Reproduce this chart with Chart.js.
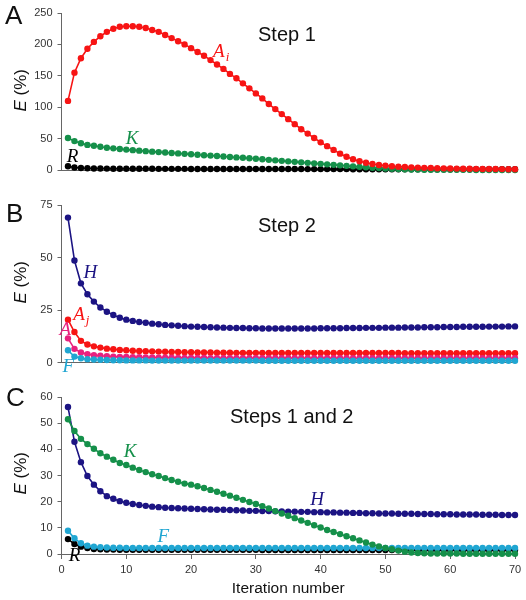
<!DOCTYPE html>
<html lang="en">
<head>
<meta charset="UTF-8">
<title>Iteration error</title>
<script src="https://cdn.jsdelivr.net/npm/chart.js"></script>
<style>
  body { margin: 0; background: #fff; font-family: Arial, "Liberation Sans", sans-serif; }
  #wrap { position: relative; width: 526px; height: 600px; }
  canvas { position: absolute; left: 0; }
  .txt { position: absolute; color: #111; white-space: nowrap; line-height: 1; }
  .letter { font-size: 26px; }
  .step { font-size: 20px; }
  .ytitle { font-size: 17px; transform: rotate(-90deg); transform-origin: center; }
</style>
</head>
<body>
<div id="wrap">
  <canvas id="chartA" width="526" height="185" style="top:0"></canvas>
  <canvas id="chartB" width="526" height="185" style="top:190px"></canvas>
  <canvas id="chartC" width="526" height="220" style="top:380px"></canvas>

  <div class="txt letter" style="left:5px;top:2px">A</div>
  <div class="txt letter" style="left:6px;top:200px">B</div>
  <div class="txt letter" style="left:6px;top:384px">C</div>

  <div class="txt step" style="left:258px;top:24px">Step 1</div>
  <div class="txt step" style="left:258px;top:215px">Step 2</div>
  <div class="txt step" style="left:230px;top:406px">Steps 1 and 2</div>

  <div class="txt ytitle" style="left:0px;top:83px;width:40px;text-align:center"><i>E</i> (%)</div>
  <div class="txt ytitle" style="left:0px;top:275px;width:40px;text-align:center"><i>E</i> (%)</div>
  <div class="txt ytitle" style="left:0px;top:466px;width:40px;text-align:center"><i>E</i> (%)</div>
</div>

<script>
// iteration numbers (x)
const iterations = [1,2,3,4,5,6,7,8,9,10,11,12,13,14,15,16,17,18,19,20,
  21,22,23,24,25,26,27,28,29,30,31,32,33,34,35,36,37,38,39,40,
  41,42,43,44,45,46,47,48,49,50,51,52,53,54,55,56,57,58,59,60,
  61,62,63,64,65,66,67,68,69,70];

// Panel A - Step 1
const stepOneAi = [110,155,178,193,204,213,220,225,228,229,
  229,228,226,223,220,215,210,205,200,194,
  188,182,175,168,161,153,146,138,130,122,
  114,105,97,89,81,73,65,58,51,44,
  38,32,26,21,17,14,11.5,9.5,8,7,
  6,5.3,4.7,4.2,3.8,3.4,3.1,2.8,2.6,2.4,
  2.2,2,1.9,1.8,1.7,1.6,1.5,1.4,1.3,1.2];
const stepOneK = [51,46,42.5,40,38.5,37,35.5,34.5,33.5,32.5,
  31.6,30.8,30,29.2,28.5,27.8,27.1,26.4,25.7,25,
  24.3,23.6,22.9,22.2,21.5,20.8,20.1,19.4,18.6,17.8,
  17,16.2,15.4,14.6,13.8,13,12.2,11.4,10.6,9.8,
  9,8.2,7.4,6.6,5.8,5,4.3,3.6,3,2.4,
  1.9,1.5,1.1,0.8,0.6,0.5,0.4,0.3,0.3,0.2,
  0.2,0.2,0.2,0.1,0.1,0.1,0.1,0.1,0.1,0.1];
const stepOneR = [6,4,3.2,2.8,2.5,2.3,2.2,2.1,2,2,
  1.9,1.9,1.9,1.9,1.8,1.8,1.8,1.8,1.8,1.7,
  1.7,1.7,1.7,1.7,1.6,1.6,1.6,1.6,1.6,1.6,
  1.5,1.5,1.5,1.5,1.5,1.5,1.5,1.4,1.4,1.4,
  1.4,1.4,1.4,1.4,1.3,1.3,1.3,1.3,1.3,1.3,
  1.3,1.3,1.2,1.2,1.2,1.2,1.2,1.2,1.2,1.2,
  1.2,1.2,1.1,1.1,1.1,1.1,1.1,1.1,1.1,1.1];

// Panel B - Step 2
const stepTwoH = [69,48.6,37.7,32.5,29,26.2,24.2,22.6,21.3,20.4,
  19.8,19.3,18.9,18.5,18.2,17.9,17.7,17.5,17.3,17.1,
  17,16.9,16.8,16.7,16.6,16.5,16.4,16.4,16.3,16.3,
  16.2,16.2,16.2,16.2,16.2,16.2,16.2,16.2,16.2,16.3,
  16.3,16.3,16.3,16.4,16.4,16.4,16.5,16.5,16.5,16.6,
  16.6,16.6,16.7,16.7,16.7,16.8,16.8,16.8,16.9,16.9,
  16.9,17,17,17,17,17.1,17.1,17.1,17.2,17.2];
const stepTwoAj = [20.4,14.5,10.3,8.6,7.7,7.1,6.6,6.3,6,5.8,
  5.6,5.5,5.4,5.3,5.2,5.1,5,5,4.9,4.9,
  4.8,4.8,4.8,4.7,4.7,4.7,4.6,4.6,4.6,4.6,
  4.6,4.5,4.5,4.5,4.5,4.5,4.5,4.5,4.5,4.5,
  4.5,4.5,4.5,4.5,4.5,4.5,4.5,4.5,4.5,4.5,
  4.5,4.5,4.4,4.4,4.4,4.4,4.4,4.4,4.4,4.4,
  4.4,4.4,4.4,4.4,4.4,4.4,4.4,4.4,4.4,4.4];
const stepTwoA = [11.5,6.5,4.8,4,3.5,3.2,3,2.8,2.7,2.6,
  2.5,2.5,2.4,2.4,2.3,2.3,2.3,2.2,2.2,2.2,
  2.2,2.2,2.1,2.1,2.1,2.1,2.1,2.1,2.1,2.1,
  2.1,2.1,2.1,2.1,2.1,2.1,2.1,2.1,2.1,2.1,
  2.1,2.1,2,2,2,2,2,2,2,2,
  2,2,2,2,2,2,2,2,2,2,
  2,2,2,2,2,2,2,2,2,2];
const stepTwoF = [5.8,2.8,2,1.6,1.4,1.3,1.2,1.1,1.1,1,
  1,1,1,0.9,0.9,0.9,0.9,0.9,0.9,0.9,
  0.9,0.9,0.9,0.9,0.9,0.9,0.9,0.9,0.9,0.9,
  0.8,0.8,0.8,0.8,0.8,0.8,0.8,0.8,0.8,0.8,
  0.8,0.8,0.8,0.8,0.8,0.8,0.8,0.8,0.8,0.8,
  0.8,0.8,0.8,0.8,0.8,0.8,0.8,0.8,0.8,0.8,
  0.8,0.8,0.8,0.8,0.8,0.8,0.8,0.8,0.8,0.8];

// Panel C - Steps 1 and 2
const bothK = [51.5,47,44,42,40.2,38.5,37.2,36,34.8,34,
  33,32.1,31.3,30.5,29.8,29,28.3,27.6,26.9,26.5,
  25.9,25.2,24.5,23.8,23,22.3,21.5,20.7,19.9,19.1,
  18.3,17.4,16.4,15.5,14.6,13.7,12.8,11.9,11,10.1,
  9.2,8.4,7.6,6.8,6,5.2,4.4,3.6,2.9,2.3,
  1.8,1.3,0.9,0.6,0.4,0.3,0.2,0.2,0.2,0.2,
  0.2,0.1,0.1,0.1,0.1,0.1,0.1,0.1,0.1,0.1];
const bothH = [56.2,42.9,35.1,29.8,26.5,24,22.1,21.1,20.2,19.6,
  19.1,18.7,18.4,18.1,17.9,17.7,17.6,17.5,17.4,17.3,
  17.2,17.1,17,16.9,16.9,16.8,16.7,16.6,16.5,16.5,
  16.4,16.4,16.3,16.3,16.2,16.2,16.1,16.1,16,16,
  15.9,15.9,15.8,15.8,15.7,15.7,15.6,15.6,15.5,15.5,
  15.5,15.4,15.4,15.4,15.3,15.3,15.3,15.2,15.2,15.2,
  15.1,15.1,15.1,15.1,15,15,15,14.9,14.9,14.9];
const bothF = [8.9,6,4.1,3.2,2.8,2.6,2.5,2.4,2.4,2.3,
  2.3,2.3,2.3,2.3,2.3,2.3,2.3,2.3,2.3,2.3,
  2.3,2.3,2.3,2.3,2.3,2.3,2.3,2.3,2.3,2.3,
  2.3,2.3,2.3,2.3,2.3,2.3,2.3,2.3,2.3,2.3,
  2.3,2.3,2.3,2.3,2.3,2.3,2.3,2.3,2.3,2.3,
  2.3,2.3,2.3,2.3,2.3,2.3,2.3,2.3,2.3,2.3,
  2.3,2.3,2.3,2.3,2.3,2.3,2.3,2.3,2.3,2.3];
const bothR = [5.7,3.8,2.8,2.3,1.9,1.8,1.7,1.7,1.6,1.6,
  1.6,1.6,1.6,1.6,1.6,1.6,1.6,1.6,1.6,1.6,
  1.6,1.6,1.6,1.6,1.6,1.6,1.6,1.6,1.6,1.6,
  1.5,1.5,1.5,1.5,1.5,1.5,1.5,1.5,1.5,1.5,
  1.5,1.5,1.5,1.5,1.5,1.5,1.5,1.5,1.5,1.5,
  1.5,1.5,1.5,1.5,1.5,1.5,1.5,1.5,1.5,1.5,
  1.5,1.5,1.5,1.5,1.5,1.5,1.5,1.5,1.5,1.5];

const RED = '#f71414', GREEN = '#15904a', BLACK = '#000000',
      NAVY = '#1c1483', PINK = '#e8217f', CYAN = '#20a6d2';

function series(vals, color) {
  return {
    data: vals.map((v, i) => ({x: iterations[i], y: v})),
    borderColor: color,
    backgroundColor: color,
    borderWidth: 1.6,
    pointRadius: 3.2,
    pointBorderWidth: 0,
    pointHoverRadius: 3.2,
    tension: 0,
    clip: 8
  };
}

// italic curve labels placed in data coordinates
const curveLabels = {
  id: 'curveLabels',
  afterDatasetsDraw(chart, args, opts) {
    const ctx = chart.ctx, xs = chart.scales.x, ys = chart.scales.y;
    (opts.items || []).forEach(it => {
      const px = xs.getPixelForValue(it.x), py = ys.getPixelForValue(it.y);
      ctx.save();
      ctx.fillStyle = it.color;
      ctx.textBaseline = 'alphabetic';
      ctx.font = 'italic 19px "Liberation Serif", "Times New Roman", serif';
      ctx.fillText(it.text, px, py);
      if (it.sub) {
        const w = ctx.measureText(it.text).width;
        ctx.font = 'italic 13px "Liberation Serif", "Times New Roman", serif';
        ctx.fillText(it.sub, px + w + 1, py + 4);
      }
      ctx.restore();
    });
  }
};

function makeChart(id, datasets, yMax, yStep, topPad, xHeight, showX, labels) {
  const axisColor = '#666';
  const tickFont = {family: 'Arial, "Liberation Sans", sans-serif', size: 11};
  return new Chart(document.getElementById(id), {
    type: 'line',
    data: {datasets: datasets},
    plugins: [curveLabels],
    options: {
      responsive: false,
      animation: false,
      events: [],
      layout: {padding: {top: topPad, right: 11, left: 0, bottom: 0}},
      plugins: {
        legend: {display: false},
        tooltip: {enabled: false},
        curveLabels: {items: labels}
      },
      scales: {
        x: {
          type: 'linear', min: 0, max: 70,
          afterFit: s => { s.height = xHeight; },
          border: {display: true, color: axisColor, width: 1},
          grid: {display: showX, drawOnChartArea: false, drawTicks: showX, tickLength: 5, color: axisColor},
          ticks: {display: showX, stepSize: 10, color: '#333', font: tickFont, padding: 4, maxRotation: 0},
          title: {
            display: showX, text: 'Iteration number', color: '#111',
            font: {family: 'Arial, "Liberation Sans", sans-serif', size: 15.5},
            padding: {top: 2, bottom: 2}
          }
        },
        y: {
          min: 0, max: yMax,
          afterFit: s => { s.width = 61.5; },
          border: {display: true, color: axisColor, width: 1},
          grid: {drawOnChartArea: false, drawTicks: true, tickLength: 4, color: axisColor},
          ticks: {stepSize: yStep, color: '#333', font: tickFont, padding: 5}
        }
      }
    }
  });
}

makeChart('chartA', [
  series(stepOneAi, RED),
  series(stepOneK, GREEN),
  series(stepOneR, BLACK)
], 250, 50, 13, 15, false, [
  {text: 'A', sub: 'i', x: 23.4, y: 180, color: RED},
  {text: 'K', x: 9.9, y: 41, color: GREEN},
  {text: 'R', x: 0.8, y: 12.7, color: BLACK}
]);

makeChart('chartB', [
  series(stepTwoF, CYAN),
  series(stepTwoA, PINK),
  series(stepTwoAj, RED),
  series(stepTwoH, NAVY)
], 75, 25, 15, 12.5, false, [
  {text: 'H', x: 3.4, y: 40.2, color: NAVY},
  {text: 'A', sub: 'j', x: 1.8, y: 20.2, color: RED},
  {text: 'A', x: -0.3, y: 13.1, color: PINK},
  {text: 'F', x: 0.15, y: -4.5, color: CYAN}
]);

makeChart('chartC', [
  series(bothK, GREEN),
  series(bothH, NAVY),
  series(bothF, CYAN),
  series(bothR, BLACK)
], 60, 10, 17, 46, true, [
  {text: 'K', x: 9.6, y: 37, color: GREEN},
  {text: 'H', x: 38.4, y: 18.7, color: NAVY},
  {text: 'F', x: 14.8, y: 4.6, color: CYAN},
  {text: 'R', x: 1.1, y: -2.8, color: BLACK}
]);
</script>
</body>
</html>
